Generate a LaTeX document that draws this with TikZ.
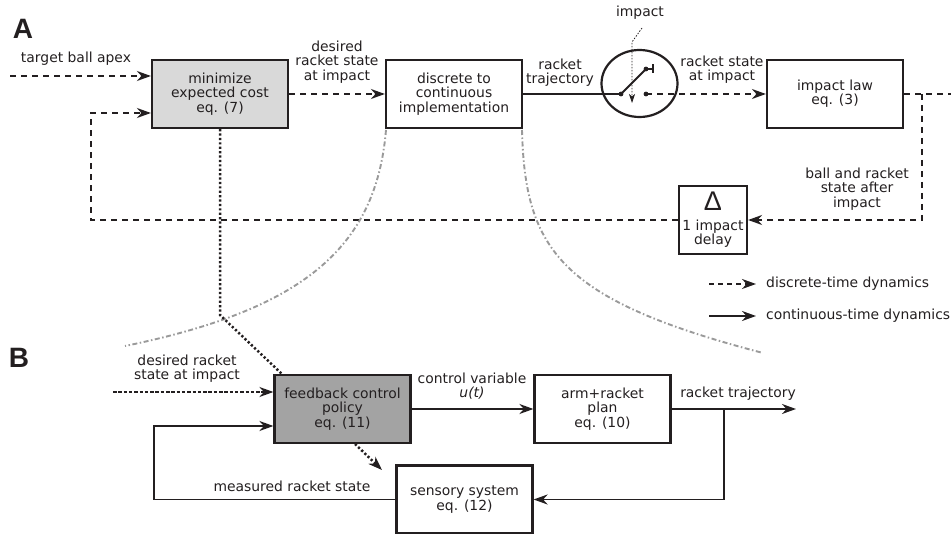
\documentclass[tikz,border=0pt]{standalone}
\usepackage{fontspec}
\setmainfont{DejaVu Sans}
\newfontfamily\labfont{Liberation Sans}
\newfontfamily\deltafont{Liberation Sans}
\usetikzlibrary{arrows.meta,shapes.geometric}
\definecolor{ink}{HTML}{231F20}
\definecolor{lightbox}{HTML}{D9D9D9}
\definecolor{darkbox}{HTML}{A3A3A3}
\definecolor{curvegray}{HTML}{9A9A9A}
\tikzset{
  txt/.style={font=\fontsize{13.9}{14.2}\selectfont, text=ink, align=center, inner sep=0pt},
  blk/.style={draw=ink, line width=2.2pt, minimum width=136pt, minimum height=68pt, inner sep=0pt,
              font=\fontsize{13.9}{14.2}\selectfont, text=ink, align=center},
  tip/.style={-{Stealth[length=14pt,width=10pt,inset=4.5pt]}},
  conn/.style={draw=ink, line width=1.8pt},
  dashA/.style={conn, dash pattern=on 6pt off 5pt},
  dashB/.style={conn, dash pattern=on 3.5pt off 1.8pt},
  dotk/.style={draw=ink, line width=2.5pt, dash pattern=on 2.2pt off 2.2pt},
  gcurve/.style={draw=curvegray, line width=1.9pt, dash pattern=on 5pt off 2.5pt on 1.5pt off 2.5pt},
  panel/.style={font=\labfont\bfseries\fontsize{28}{28}\selectfont, text=ink, inner sep=0pt},
}
\begin{document}
\begin{tikzpicture}[x=1pt,y=-1pt]
\useasboundingbox (0,0) rectangle (951,534);

% panel labels
\node[panel] (labA) at (23,29) {A};
\node[panel] (labB) at (19,358) {B};

% ---------- panel A ----------
\node[blk, fill=lightbox] (min) at (220,94) {minimize\\expected cost\\eq. (7)};
\node[blk] (disc) at (454,94) {discrete to\\continuous\\implementation};
\node[blk] (law) at (835,94) {impact law\\eq. (3)};
\node[blk, minimum width=68pt] (delta) at (713,220) {};
\node[txt, font=\deltafont\fontsize{27}{27}\selectfont] (dsym) at (713,201) {Δ};
\node[txt] (dtxt) at (713,234) {1 impact\\delay};

% switch
\node[draw=ink, line width=2.2pt, ellipse, minimum width=76pt, minimum height=67pt, inner sep=0pt] (sw) at (639.5,83.5) {};
\coordinate (c1) at (621,94);
\coordinate (c2) at (646,94);
\coordinate (lv) at (646,69);
\coordinate (lvH) at (653,69);
\draw[ink, line width=1.8pt] (c1) -- (lv) -- (lvH);
\draw[ink, line width=1.4pt] (653,64.5) -- (653,73.5);
\fill[ink] (c1) circle (2.4pt) (c2) circle (2.4pt) (lv) circle (2.4pt);

% impact pointer
\node[txt] (imp) at (640,13) {impact};
\coordinate (ip1) at (642,28);
\coordinate (ip2) at (632,42);
\coordinate (ip3) at (632,103);
\draw[ink, line width=0.8pt, dash pattern=on 1.5pt off 1.5pt, -{Stealth[length=9pt,width=6pt,inset=2.5pt]}] (ip1) -- (ip2) -- (ip3);

% inputs and connections
\coordinate (inA) at (10,76);
\node[txt] (ltarget) at (76,59) {target ball apex};
\draw[dashA, tip] (inA) -- (min.west |- inA);

\draw[dashA, tip] (min.east) -- (disc.west);
\node[txt] (ldes) at (337,62) {desired\\racket state\\at impact};

\draw[conn] (disc.east) -- (c1);
\node[txt] (lrt) at (560,73) {racket\\trajectory};

\draw[dashA, tip] (c2) -- (law.west);
\node[txt] (lrs) at (722,70) {racket state\\at impact};

\coordinate (outR) at (951,94);
\draw[dashA] (law.east) -- (outR);
\coordinate (brA) at (922,94);
\coordinate (brA2) at (922,220);
\draw[dashA, tip] (brA) -- (brA2) -- (delta.east);
\node[txt] (lball) at (857,189) {ball and racket\\state after\\impact};

\coordinate (fbL) at (91,113);
\draw[dashA, tip] (delta.west) -| (fbL) -- (min.west |- fbL);

% gray dash-dot curves
\coordinate (gl0) at (386,130);
\coordinate (gl1) at (125,346);
\coordinate (gr0) at (522,130);
\coordinate (gr1) at (763,353);
\draw[gcurve] (gl0) .. controls (376,250) and (300,310) .. (gl1);
\draw[gcurve] (gr0) .. controls (525,250) and (560,300) .. (gr1);

% legend
\coordinate (lg1a) at (709,284);
\coordinate (lg1b) at (756,284);
\coordinate (lg2a) at (709,316);
\coordinate (lg2b) at (756,316);
\draw[dashA, dash pattern=on 5pt off 4pt, tip] (lg1a) -- (lg1b);
\draw[conn, tip] (lg2a) -- (lg2b);
\node[txt, anchor=west] (lgt1) at (766,284) {discrete-time dynamics};
\node[txt, anchor=west] (lgt2) at (766,316) {continuous-time dynamics};

% ---------- panel B ----------
\node[blk, fill=darkbox] (fb) at (342.5,409) {feedback control\\policy\\eq. (11)};
\node[blk] (arm) at (602.5,409) {arm+racket\\plan\\eq. (10)};
\node[blk] (sens) at (464.5,499.5) {sensory system\\eq. (12)};

% dotted link between panels
\coordinate (dk1) at (220,315);
\coordinate (dk2) at (283,375);
\draw[dotk] (min.south) -- (dk1) -- (dk2);
\coordinate (dt1) at (355,444);
\coordinate (dt2) at (382,470);
\draw[dotk, -{Stealth[length=14pt,width=10pt,inset=4.5pt]}] (dt1) -- (dt2);

\coordinate (dB) at (113,392);
\draw[dashB, tip] (dB) -- (fb.west |- dB);
\node[txt] (ldesB) at (187,369) {desired racket\\state at impact};

\coordinate (mB) at (154,426);
\draw[conn, tip] (sens.west) -| (mB) -- (fb.west |- mB);
\node[txt] (lmeas) at (292,486) {measured racket state};

\draw[conn, tip] (fb.east) -- (arm.west);
\node[txt] (lcv) at (472,386) {control variable\\\textit{u(t)}};

\coordinate (rtE) at (796,409);
\draw[conn, tip] (arm.east) -- (rtE);
\node[txt] (lrtB) at (738,394) {racket trajectory};
\coordinate (brB) at (724,409);
\draw[conn, tip] (brB) |- (sens.east);
\end{tikzpicture}
\end{document}
